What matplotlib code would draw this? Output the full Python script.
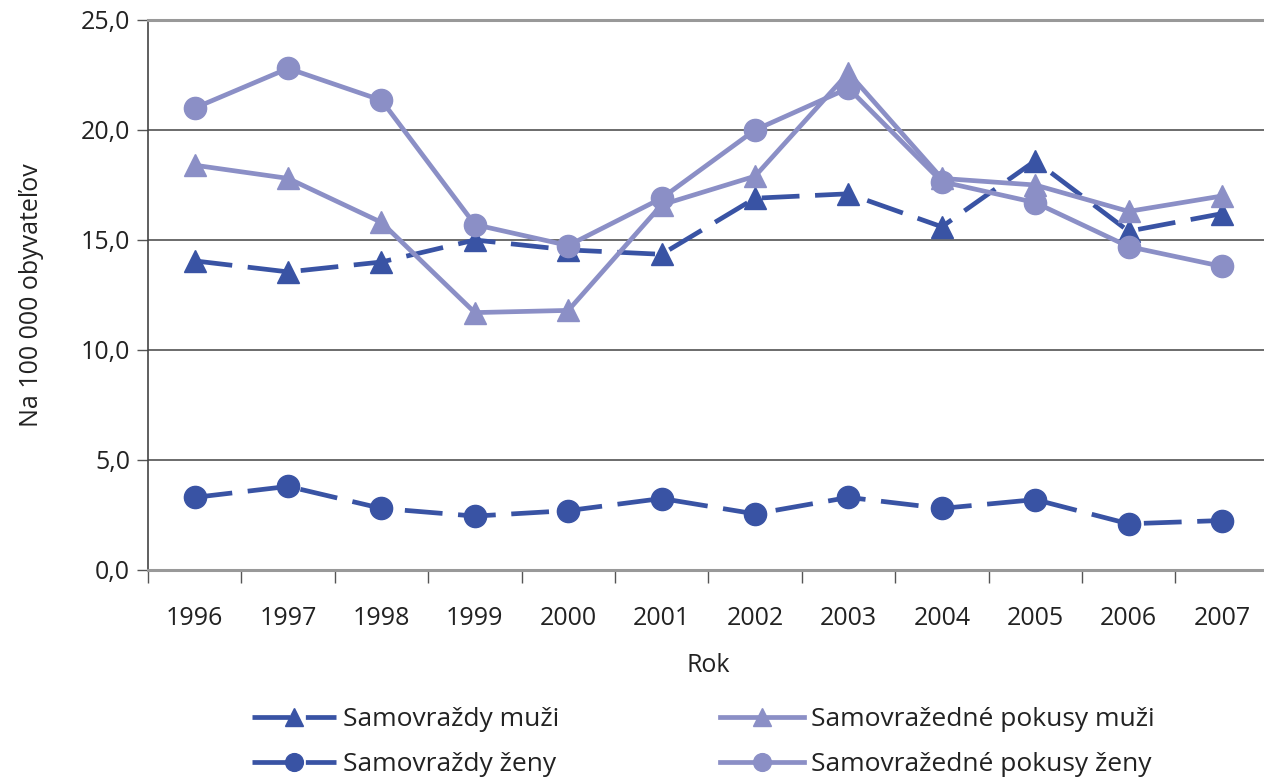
import matplotlib.pyplot as plt
import numpy as np

plt.rcParams['font.family'] = ['Open Sans', 'DejaVu Sans']

years = ['1996', '1997', '1998', '1999', '2000', '2001',
         '2002', '2003', '2004', '2005', '2006', '2007']

# values per 100 000 inhabitants
samovrazdy_muzi = [14.05, 13.55, 14.0, 15.0, 14.55, 14.35, 16.9, 17.1, 15.6, 18.6, 15.4, 16.2]
samovrazdy_zeny = [3.3, 3.8, 2.8, 2.45, 2.7, 3.25, 2.55, 3.3, 2.8, 3.2, 2.1, 2.25]
pokusy_muzi = [18.4, 17.8, 15.8, 11.7, 11.8, 16.6, 17.9, 22.6, 17.8, 17.5, 16.3, 17.0]
pokusy_zeny = [21.0, 22.8, 21.35, 15.7, 14.75, 16.9, 20.0, 21.9, 17.65, 16.7, 14.7, 13.8]

dark = '#3953a4'
light = '#8b8fc6'

fig = plt.figure(figsize=(12.64, 7.78), dpi=100)
ax = fig.add_axes([148 / 1264, 208 / 778, (1268.7 - 148) / 1264, 550 / 778])

x = np.arange(len(years))
dash = (8, 3.3)
l1, = ax.plot(x, samovrazdy_muzi, color=dark, lw=3.4, dashes=dash, marker='^', ms=16,
              label='Samovraždy muži', zorder=3)
l2, = ax.plot(x, samovrazdy_zeny, color=dark, lw=3.4, dashes=dash, marker='o', ms=16,
              label='Samovraždy ženy', zorder=3)
l3, = ax.plot(x, pokusy_muzi, color=light, lw=3.4, marker='^', ms=16,
              label='Samovražedné pokusy muži', zorder=4)
l4, = ax.plot(x, pokusy_zeny, color=light, lw=3.4, marker='o', ms=16,
              label='Samovražedné pokusy ženy', zorder=4)

ax.set_xlim(-0.5, 11.5)
ax.set_ylim(0, 25)
ax.set_yticks(np.arange(0, 26, 5))
ax.set_yticklabels([f'{v:.1f}'.replace('.', ',') for v in np.arange(0, 26, 5)])
ax.set_xticks(x)
ax.set_xticklabels(years)
ax.set_xticks(np.arange(-0.5, 12, 1), minor=True)
ax.tick_params(axis='x', which='major', length=0, pad=26, labelsize=18, labelcolor='#222222')
ax.tick_params(axis='x', which='minor', length=9, width=1, color='#555555', direction='out')
ax.tick_params(axis='y', length=8, width=1, color='#555555', labelsize=18, pad=5,
               labelcolor='#222222')

for v in [5, 10, 15, 20]:
    ax.axhline(v, color='#444444', lw=1.1, zorder=1)

ax.spines['right'].set_visible(False)
ax.spines['top'].set_color('#999999')
ax.spines['top'].set_linewidth(2.2)
ax.spines['bottom'].set_color('#999999')
ax.spines['bottom'].set_linewidth(2.2)
ax.spines['left'].set_color('#444444')
ax.spines['left'].set_linewidth(1.2)

ax.set_ylabel('Na 100 000 obyvateľov', fontsize=18, color='#222222', labelpad=26)
ax.set_xlabel('Rok', fontsize=18, color='#222222', labelpad=16)

leg_kw = dict(frameon=False, fontsize=19, handlelength=3.2, handletextpad=0.25,
              labelspacing=0.75, borderpad=0, borderaxespad=0, labelcolor='#222222',
              markerscale=0.8)
fig.legend(handles=[l1, l2], loc='upper left', bbox_to_anchor=(252 / 1264, 1 - 707 / 778), **leg_kw)
fig.legend(handles=[l3, l4], loc='upper left', bbox_to_anchor=(720 / 1264, 1 - 707 / 778), **leg_kw)

fig.savefig('out.png', dpi=100)
